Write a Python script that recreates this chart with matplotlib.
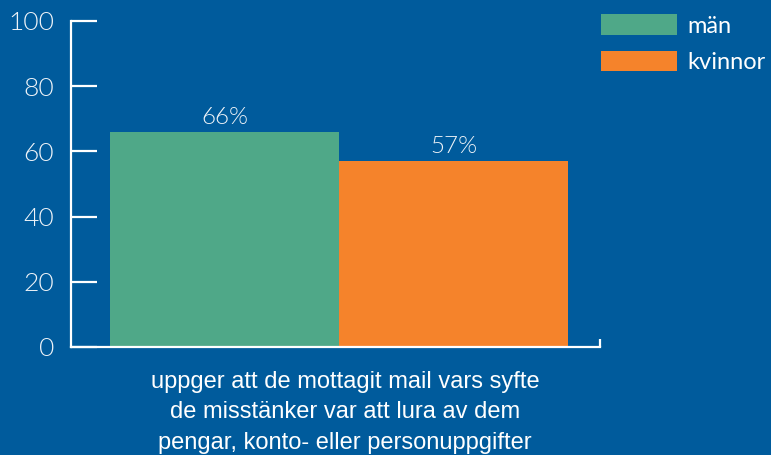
import matplotlib
matplotlib.use('Agg')
import matplotlib.pyplot as plt

# Data
categories = ['män', 'kvinnor']
values = [66, 57]
bar_labels = ['66%', '57%']
yticks = [0, 20, 40, 60, 80, 100]
xlabel = ('uppger att de mottagit mail vars syfte\n'
          'de misstänker var att lura av dem\n'
          'pengar, konto- eller personuppgifter')

bg = '#005B9C'
colors = ['#4FA888', '#F5832B']
txt = '#EEF3F8'

fig = plt.figure(figsize=(7.71, 4.55), dpi=100, facecolor=bg)
ax = fig.add_axes([71 / 771, 1 - 347 / 455, 529 / 771, 326 / 455])
ax.set_facecolor(bg)

bars = ax.bar([0, 1], values, width=1.0, color=colors, label=categories, zorder=2)
ax.set_xlim(-0.67, 1.64)
ax.set_ylim(0, 100)

for b, lab in zip(bars, bar_labels):
    ax.text(b.get_x() + b.get_width() / 2, b.get_height() + 1.2, lab,
            ha='center', va='bottom', color=txt, fontsize=17.5, family='Lato',
            fontweight=300)

# axes styling
for s in ['top', 'right']:
    ax.spines[s].set_visible(False)
for s in ['left', 'bottom']:
    ax.spines[s].set_color('white')
    ax.spines[s].set_linewidth(1.6)
    ax.spines[s].set_zorder(3)

ax.set_yticks(yticks)
ax.set_yticklabels([str(t) for t in yticks], family='Lato', fontweight=300,
                   fontsize=19, color=txt)
ax.tick_params(axis='y', direction='in', length=19, width=1.6, color='white', pad=12)
ax.set_xticks([1.64])
ax.set_xticklabels([''])
ax.tick_params(axis='x', direction='in', length=6, width=1.6, color='white')

fig.text(345 / 771, 1 - 371 / 455, xlabel, ha='center', va='top', color='white',
         fontsize=17, family='Liberation Sans', linespacing=1.5)

leg = fig.legend(handles=bars, labels=categories, loc='upper left',
                 bbox_to_anchor=(580 / 771, 1 + 7 / 455), frameon=False,
                 prop={'family': 'Lato', 'size': 17}, labelcolor='white',
                 handlelength=3.2, handleheight=0.95, handletextpad=0.45,
                 labelspacing=0.6)

fig.savefig('out.png', dpi=100, facecolor=bg)
